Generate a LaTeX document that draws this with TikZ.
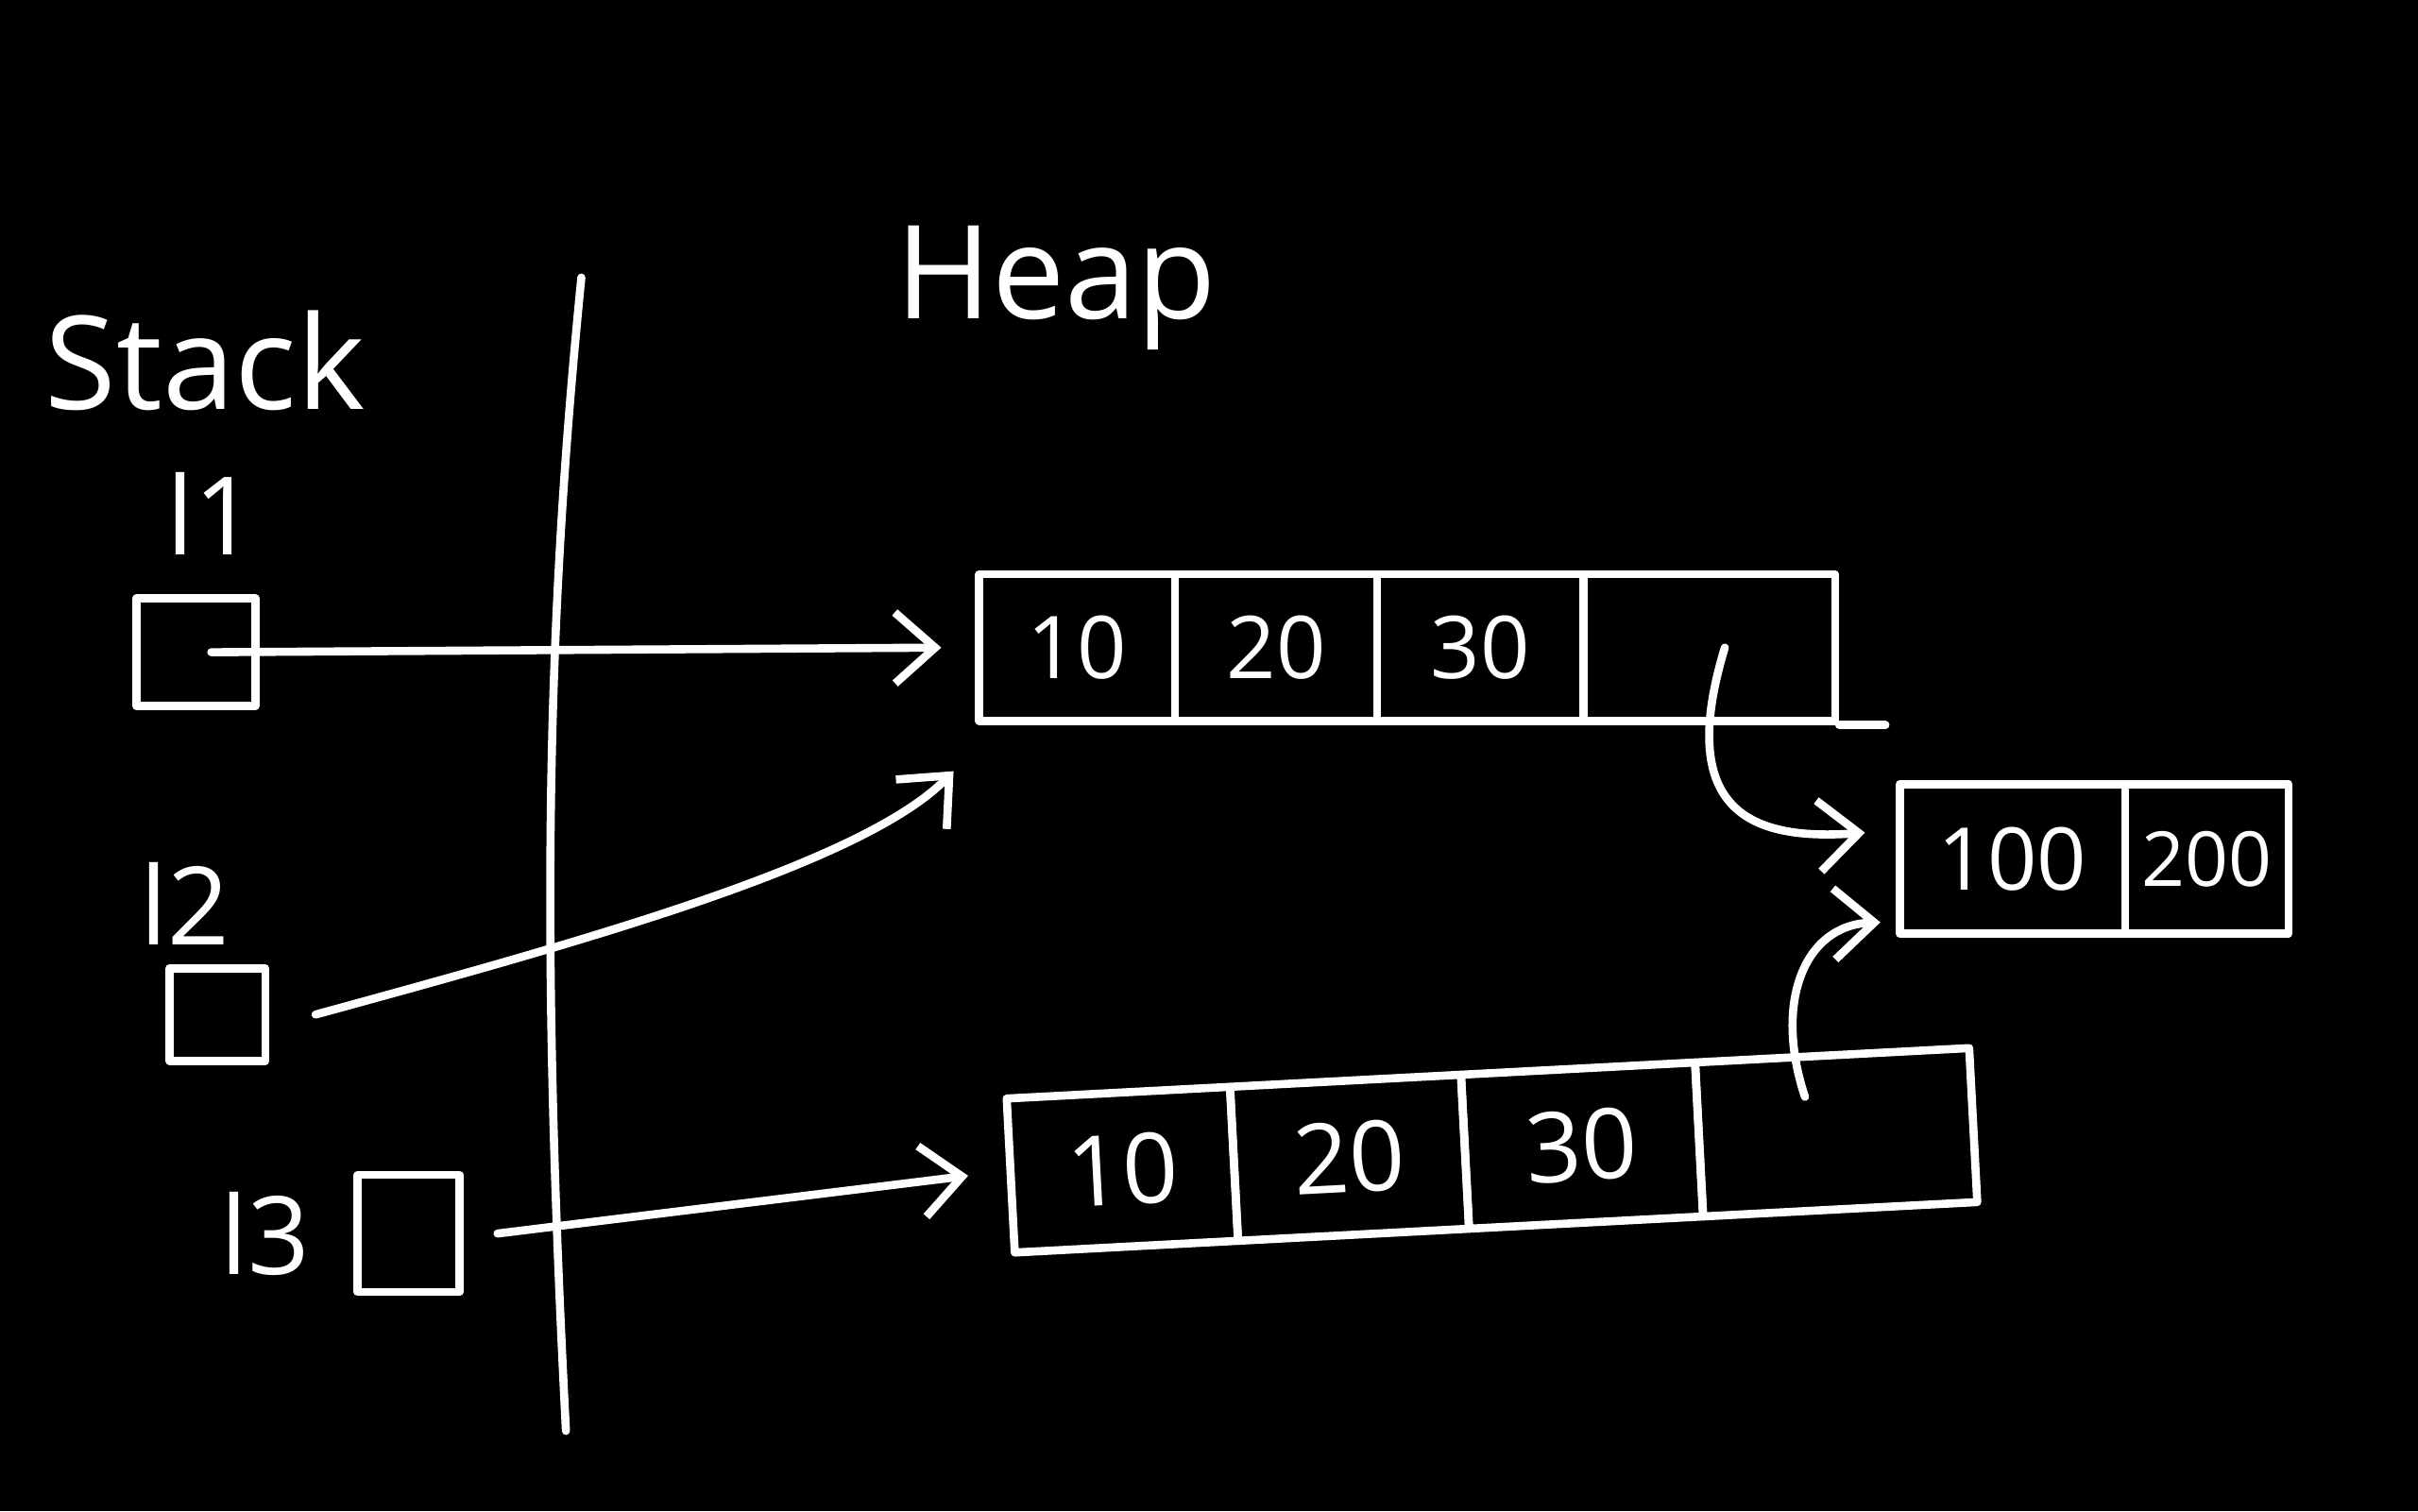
\documentclass[tikz,border=0pt]{standalone}
\usepackage{fontspec}
\setmainfont{Open Sans}
\usetikzlibrary{arrows.meta}
\begin{document}
\begin{tikzpicture}[x=0.1mm,y=-0.1mm,
  line width=1.5pt, line cap=round, line join=round,
  ink/.style={draw=white, line width=1.5pt},
  txt/.style={text=white, inner sep=0pt},
  cell/.style={draw=white, line width=1.5pt, text=white, inner sep=0pt, minimum height=9.5mm, font=\fontsize{16}{16}\selectfont},
  sbox/.style={draw=white, line width=1.5pt, inner sep=0pt},
  arr/.style={draw=white, line width=1.5pt, -{Straight Barb[length=2.6mm,width=4.6mm,line width=1.5pt]}},
]
\fill[black] (0,0) rectangle (1568,980);
\useasboundingbox (0,0) rectangle (1568,980);

% titles
\node[txt, font=\fontsize{24}{24}\selectfont] (stack) at (133,234) {Stack};
\node[txt, font=\fontsize{24}{24}\selectfont] (heap) at (685,187) {Heap};

% divider
\draw[ink] (377,180) .. controls (355,400) and (350,600) .. (367,928);

% stack variables
\node[txt, font=\fontsize{20}{20}\selectfont] (l1lbl) at (137,333) {l1};
\node[sbox, minimum width=7.7mm, minimum height=7mm] (b1) at (127,423) {};
\node[txt, font=\fontsize{20}{20}\selectfont] (l2lbl) at (120,586) {l2};
\node[sbox, minimum width=6.2mm, minimum height=6mm] (b2) at (141,658) {};
\node[txt, font=\fontsize{20}{20}\selectfont] (l3lbl) at (172,800) {l3};
\node[sbox, minimum width=6.6mm, minimum height=7.6mm] (b3) at (265,800) {};

% heap array 1
\node[cell, minimum width=12.7mm] (a1c1) at (698.5,420) {10};
\node[cell, minimum width=13.1mm] (a1c2) at (827.5,420) {20};
\node[cell, minimum width=13.4mm] (a1c3) at (960,420) {30};
\node[cell, minimum width=16.3mm] (a1c4) at (1108.5,420) {};
\draw[ink] (a1c4.south east) -- ++(3mm,0);

% heap array 2 (slanted)
\begin{scope}[rotate around={3:(968,746)}, transform shape]
\node[cell, minimum width=14.5mm, minimum height=10mm, font=\fontsize{18}{18}\selectfont] (a2c1) at (727.5,746) {10};
\node[cell, minimum width=15mm, minimum height=10mm, font=\fontsize{18}{18}\selectfont] (a2c2) at (875,746) {20};
\node[cell, minimum width=15.2mm, minimum height=10mm, font=\fontsize{18}{18}\selectfont] (a2c3) at (1026,746) {30};
\node[cell, minimum width=17.8mm, minimum height=10mm] (a2c4) at (1191,746) {};
\coordinate (a2s) at (1172,722);
\end{scope}

% heap array 3
\node[cell, minimum width=14.6mm, minimum height=9.7mm] (a3c1) at (1305,557) {100};
\node[cell, minimum width=10.6mm, minimum height=9.7mm, font=\fontsize{14}{14}\selectfont] (a3c2) at (1431,557) {200};

% connectors
\draw[arr] ([xshift=1mm]b1.center) -- ([xshift=-2.2mm]a1c1.west);
\draw[arr] ([xshift=3mm]b2.east) .. controls (380,610) and (560,560) .. ([shift={(-1.4mm,-3mm)}]a1c1.south west);
\draw[arr] ([xshift=2.2mm]b3.east) -- ([xshift=-2.5mm]a2c1.west);
\draw[arr] ([shift={(1mm,0mm)}]a1c4.center) .. controls (1085,530) and (1140,545) .. ([shift={(-2mm,1.7mm)}]a3c1.west);
\draw[arr] (a2s) .. controls (1150,650) and (1170,600) .. ([shift={(-1mm,1mm)}]a3c1.south west);
\end{tikzpicture}
\end{document}
